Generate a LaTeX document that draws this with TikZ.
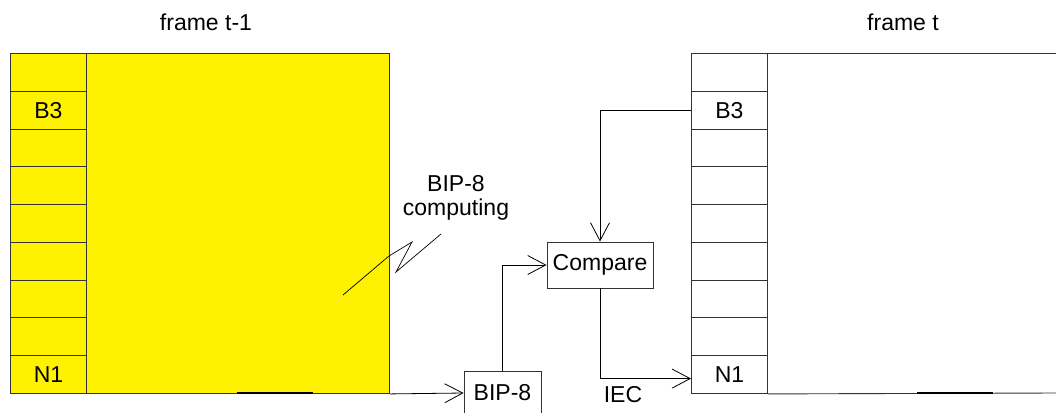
\documentclass[tikz,border=0pt]{standalone}
\usepackage{fontspec}
\setmainfont{Liberation Sans}
\usetikzlibrary{arrows.meta,calc}
\begin{document}
\begin{tikzpicture}[x=1pt,y=-1pt,font=\fontsize{23}{24}\selectfont,
  frameline/.style={draw=black!80,line width=0.9pt},
  cell/.style={frameline,minimum width=76pt,minimum height=37.78pt,inner sep=0pt,anchor=north west},
  box/.style={draw=black!80,line width=0.9pt,inner sep=0pt},
  conn/.style={line width=0.8pt,-{Straight Barb[length=18pt,width=19pt]}},
  txt/.style={inner sep=0pt,anchor=base}]
\useasboundingbox (0,0) rectangle (1056,412);
% left frame
\node[frameline,fill=yellow,minimum width=379pt,minimum height=340pt,anchor=north west,inner sep=0pt] (LF) at (10,53) {};
\foreach \i/\t in {1/,2/B3,3/,4/,5/,6/,7/,8/,9/N1}
  \node[cell,fill=yellow] (L\i) at (10,{53+(\i-1)*37.78}) {\t};
\draw[line width=1.6pt] (237,393) -- (313,393);
% right frame
\foreach \i/\t in {1/,2/B3,3/,4/,5/,6/,7/,8/,9/N1}
  \node[cell] (R\i) at (691,{53+(\i-1)*37.78}) {\t};
\draw[frameline] (R1.north east) -- (1056,53);
\draw[frameline] (R9.south east) -- (1056,393);
\draw[line width=1.6pt] (917,393) -- (993,393);
% titles
\node[txt] (t1) at (206,31) {frame t-1};
\node[txt] (t2) at (903,31) {frame t};
% boxes
\node[box,minimum width=77pt,minimum height=44pt] (bip) at (502.5,393) {BIP-8};
\node[box,minimum width=106pt,minimum height=46pt] (cmp) at (600,265) {Compare};
% label
\node[align=center,inner sep=0pt] (bc) at (456,198) {BIP-8\\computing};
\draw[line width=0.7pt] (343,295) -- (389,256) -- (412,242) -- (396,272) -- (441,234);
% connectors
\draw[conn] (L9.south -| LF.east) -- (bip.west);
\draw[conn] (bip.north) |- (cmp.west);
\draw[conn] (R2.west) -| (cmp.north);
\draw[conn] (cmp.south) |- ([yshift=-4pt]R9.west);
\node[txt] (iec) at (623,402) {IEC};
\end{tikzpicture}
\end{document}
